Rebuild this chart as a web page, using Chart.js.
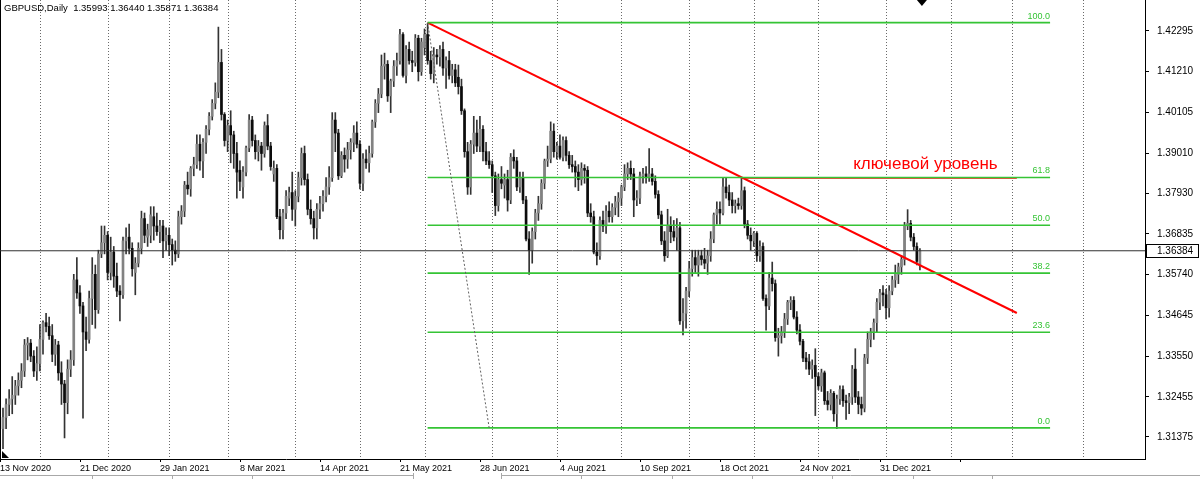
<!DOCTYPE html>
<html>
<head>
<meta charset="utf-8">
<script src="https://cdn.jsdelivr.net/npm/chart.js@4.4.1/dist/chart.umd.min.js"></script>
<style>
html, body { margin: 0; padding: 0; background: #fff; }
#wrap { width: 1200px; height: 479px; }
canvas { display: block; }
</style>
</head>
<body>
<div id="wrap"><canvas id="chart" width="1200" height="479"></canvas></div>
<script>
// GBPUSD daily candles (index 0 = 13 Nov 2020)
const opens = [
1.3160,1.3190,1.3225,1.3240,1.3250,1.3275,1.3290,1.3315,1.3385,1.3390,
1.3355,1.3315,1.3335,1.3400,1.3445,1.3435,1.3410,1.3360,1.3385,1.3310,
1.3280,1.3230,1.3320,1.3345,1.3560,1.3525,1.3490,1.3420,1.3400,1.3510,
1.3575,1.3480,1.3630,1.3660,1.3680,1.3580,1.3635,1.3570,1.3530,1.3520,
1.3665,1.3675,1.3645,1.3580,1.3605,1.3645,1.3725,1.3675,1.3680,1.3730,
1.3705,1.3690,1.3705,1.3665,1.3680,1.3655,1.3640,1.3630,1.3730,1.3745,
1.3815,1.3805,1.3860,1.3870,1.3925,1.3880,1.3930,1.3965,1.4000,1.4035,
1.4065,1.4145,1.4005,1.3935,1.3975,1.3950,1.3900,1.3855,1.3810,1.3850,
1.3915,1.3990,1.3935,1.3905,1.3920,1.3900,1.3975,1.3920,1.3845,1.3860,
1.3730,1.3695,1.3740,1.3780,1.3795,1.3750,1.3785,1.3835,1.3900,1.3830,
1.3750,1.3725,1.3700,1.3750,1.3765,1.3785,1.3810,1.3835,1.3990,1.3955,
1.3840,1.3895,1.3885,1.3910,1.3930,1.3955,1.3925,1.3820,1.3885,1.3875,
1.3900,1.3985,1.4035,1.4060,1.4135,1.4140,1.4055,1.4095,1.4135,1.4150,
1.4220,1.4110,1.4180,1.4150,1.4145,1.4210,1.4120,1.4185,1.4220,1.4150,
1.4115,1.4165,1.4160,1.4180,1.4130,1.4150,1.4110,1.4125,1.4105,1.4080,
1.4015,1.3905,1.3810,1.3925,1.3955,1.3920,1.3965,1.3905,1.3880,1.3870,
1.3840,1.3760,1.3830,1.3815,1.3830,1.3775,1.3890,1.3880,1.3810,1.3835,
1.3775,1.3670,1.3640,1.3690,1.3740,1.3765,1.3820,1.3880,1.3885,1.3960,
1.3905,1.3920,1.3890,1.3935,1.3895,1.3870,1.3865,1.3850,1.3830,1.3860,
1.3855,1.3740,1.3730,1.3635,1.3625,1.3720,1.3705,1.3745,1.3730,1.3755,
1.3770,1.3780,1.3810,1.3845,1.3860,1.3845,1.3775,1.3780,1.3840,1.3845,
1.3835,1.3845,1.3825,1.3790,1.3735,1.3665,1.3625,1.3705,1.3690,1.3675,
1.3700,1.3450,1.3470,1.3530,1.3590,1.3620,1.3600,1.3625,1.3615,1.3605,
1.3625,1.3670,1.3735,1.3750,1.3740,1.3810,1.3795,1.3775,1.3760,1.3765,
1.3760,1.3800,1.3710,1.3680,1.3665,1.3685,1.3625,1.3650,1.3510,1.3490,
1.3565,1.3550,1.3405,1.3410,1.3420,1.3455,1.3500,1.3505,1.3460,1.3425,
1.3395,1.3350,1.3340,1.3320,1.3330,1.3300,1.3275,1.3310,1.3235,1.3225,
1.3255,1.3200,1.3240,1.3265,1.3235,1.3230,1.3245,1.3320,1.3245,1.3225,
1.3215,1.3350,1.3400,1.3420,1.3445,1.3500,1.3525,1.3520,1.3485,1.3530,
1.3560,1.3575,1.3595,1.3615,1.3705,1.3712,1.3675,1.3650,1.35993
];
const highs = [
1.3215,1.3240,1.3265,1.3300,1.3290,1.3310,1.3335,1.3400,1.3405,1.3400,
1.3370,1.3380,1.3440,1.3450,1.3470,1.3460,1.3440,1.3400,1.3395,1.3340,
1.3290,1.3345,1.3370,1.3575,1.3620,1.3545,1.3500,1.3460,1.3530,1.3620,
1.3600,1.3640,1.3705,1.3705,1.3690,1.3675,1.3650,1.3605,1.3545,1.3675,
1.3700,1.3710,1.3660,1.3620,1.3660,1.3745,1.3740,1.3710,1.3757,1.3757,
1.3740,1.3720,1.3720,1.3700,1.3700,1.3670,1.3665,1.3745,1.3760,1.3825,
1.3850,1.3865,1.3890,1.3950,1.3950,1.3940,1.3975,1.4010,1.4045,1.4090,
1.4240,1.4180,1.4010,1.3990,1.4015,1.3960,1.3930,1.3880,1.3865,1.3920,
1.4005,1.4000,1.3950,1.3935,1.3930,1.3985,1.4005,1.3930,1.3880,1.3870,
1.3750,1.3750,1.3800,1.3810,1.3850,1.3800,1.3850,1.3915,1.3920,1.3845,
1.3775,1.3745,1.3765,1.3785,1.3800,1.3835,1.3865,1.4010,1.4010,1.3965,
1.3905,1.3915,1.3930,1.3940,1.3975,1.3985,1.3935,1.3900,1.3910,1.3920,
1.3990,1.4045,1.4075,1.4165,1.4170,1.4150,1.4100,1.4150,1.4170,1.4234,
1.4225,1.4190,1.4200,1.4175,1.4220,1.4218,1.4210,1.4235,1.4250,1.4175,
1.4185,1.4180,1.4190,1.4200,1.4160,1.4175,1.4140,1.4140,1.4138,1.4100,
1.4020,1.3930,1.3935,1.4000,1.3990,1.4000,1.3975,1.3930,1.3905,1.3880,
1.3850,1.3845,1.3865,1.3845,1.3855,1.3900,1.3910,1.3890,1.3850,1.3850,
1.3785,1.3690,1.3700,1.3750,1.3785,1.3830,1.3885,1.3920,1.3985,1.3980,
1.3930,1.3950,1.3945,1.3945,1.3905,1.3895,1.3880,1.3870,1.3875,1.3870,
1.3865,1.3765,1.3745,1.3660,1.3730,1.3745,1.3760,1.3770,1.3765,1.3785,
1.3795,1.3815,1.3870,1.3875,1.3880,1.3860,1.3800,1.3850,1.3860,1.3865,
1.3913,1.3860,1.3840,1.3800,1.3745,1.3690,1.3750,1.3730,1.3720,1.3725,
1.3715,1.3510,1.3540,1.3610,1.3640,1.3640,1.3640,1.3640,1.3645,1.3640,
1.3690,1.3740,1.3770,1.3770,1.3834,1.3835,1.3815,1.3795,1.3775,1.3780,
1.3835,1.3810,1.3720,1.3700,1.3690,1.3690,1.3665,1.3660,1.3520,1.3580,
1.3608,1.3560,1.3430,1.3435,1.3470,1.3505,1.3515,1.3515,1.3475,1.3440,
1.3400,1.3365,1.3360,1.3345,1.3375,1.3310,1.3320,1.3315,1.3260,1.3265,
1.3260,1.3250,1.3275,1.3275,1.3250,1.3255,1.3330,1.3375,1.3260,1.3245,
1.3360,1.3420,1.3430,1.3455,1.3510,1.3535,1.3545,1.3535,1.3545,1.3570,
1.3600,1.3605,1.3625,1.3715,1.3749,1.3720,1.3685,1.3660,1.36440
];
const lows = [
1.3106,1.3160,1.3195,1.3200,1.3225,1.3250,1.3270,1.3300,1.3345,1.3340,
1.3300,1.3290,1.3315,1.3360,1.3420,1.3400,1.3340,1.3330,1.3290,1.3225,
1.3135,1.3200,1.3300,1.3330,1.3510,1.3470,1.3188,1.3370,1.3390,1.3440,
1.3430,1.3470,1.3620,1.3630,1.3560,1.3560,1.3540,1.3515,1.3450,1.3510,
1.3630,1.3630,1.3570,1.3520,1.3595,1.3630,1.3660,1.3650,1.3660,1.3667,
1.3680,1.3660,1.3620,1.3640,1.3625,1.3600,1.3610,1.3620,1.3710,1.3730,
1.3790,1.3785,1.3840,1.3860,1.3855,1.3835,1.3900,1.3950,1.3990,1.4020,
1.4050,1.3990,1.3920,1.3905,1.3875,1.3860,1.3780,1.3800,1.3780,1.3840,
1.3905,1.3920,1.3885,1.3880,1.3855,1.3890,1.3910,1.3855,1.3825,1.3725,
1.3670,1.3670,1.3725,1.3760,1.3720,1.3705,1.3770,1.3815,1.3815,1.3735,
1.3710,1.3670,1.3670,1.3725,1.3745,1.3770,1.3790,1.3825,1.3905,1.3830,
1.3835,1.3850,1.3860,1.3885,1.3905,1.3915,1.3805,1.3800,1.3860,1.3850,
1.3890,1.3970,1.4010,1.4050,1.4100,1.4040,1.4010,1.4080,1.4110,1.4140,
1.4105,1.4090,1.4140,1.4120,1.4135,1.4095,1.4110,1.4165,1.4140,1.4100,
1.4090,1.4140,1.4135,1.4110,1.4075,1.4100,1.4090,1.4080,1.4060,1.4005,
1.3890,1.3790,1.3790,1.3900,1.3905,1.3905,1.3880,1.3870,1.3860,1.3795,
1.3733,1.3745,1.3805,1.3780,1.3745,1.3765,1.3860,1.3800,1.3795,1.3765,
1.3665,1.3575,1.3605,1.3670,1.3720,1.3750,1.3805,1.3865,1.3875,1.3890,
1.3885,1.3885,1.3880,1.3880,1.3860,1.3850,1.3810,1.3800,1.3815,1.3820,
1.3730,1.3715,1.3630,1.3600,1.3615,1.3690,1.3685,1.3715,1.3715,1.3735,
1.3730,1.3760,1.3800,1.3830,1.3830,1.3730,1.3760,1.3765,1.3820,1.3820,
1.3825,1.3815,1.3780,1.3725,1.3655,1.3610,1.3620,1.3660,1.3665,1.3640,
1.3440,1.3412,1.3430,1.3515,1.3570,1.3580,1.3570,1.3600,1.3590,1.3575,
1.3610,1.3660,1.3710,1.3710,1.3735,1.3780,1.3760,1.3740,1.3740,1.3750,
1.3750,1.3700,1.3670,1.3640,1.3650,1.3610,1.3610,1.3505,1.3425,1.3480,
1.3530,1.3395,1.3355,1.3390,1.3405,1.3440,1.3480,1.3455,1.3415,1.3385,
1.3340,1.3320,1.3305,1.3295,1.3195,1.3265,1.3260,1.3225,1.3210,1.3210,
1.3180,1.3160,1.3225,1.3220,1.3185,1.3200,1.3225,1.3230,1.3200,1.3197,
1.3205,1.3335,1.3380,1.3400,1.3420,1.3480,1.3490,1.3455,1.3460,1.3520,
1.3540,1.3550,1.3575,1.3600,1.3695,1.3665,1.3640,1.3600,1.35871
];
const closes = [
1.3190,1.3225,1.3240,1.3250,1.3275,1.3290,1.3315,1.3385,1.3390,1.3355,
1.3315,1.3335,1.3400,1.3445,1.3435,1.3410,1.3360,1.3385,1.3310,1.3280,
1.3230,1.3320,1.3345,1.3560,1.3525,1.3490,1.3420,1.3400,1.3510,1.3575,
1.3480,1.3630,1.3660,1.3680,1.3580,1.3635,1.3570,1.3530,1.3520,1.3665,
1.3675,1.3645,1.3590,1.3605,1.3645,1.3725,1.3680,1.3695,1.3735,1.3705,
1.3690,1.3705,1.3665,1.3680,1.3655,1.3640,1.3630,1.3730,1.3745,1.3815,
1.3805,1.3860,1.3870,1.3925,1.3880,1.3930,1.3965,1.4000,1.4035,1.4065,
1.4145,1.4005,1.3935,1.3975,1.3950,1.3900,1.3850,1.3825,1.3850,1.3915,
1.3990,1.3935,1.3905,1.3920,1.3900,1.3975,1.3920,1.3865,1.3860,1.3730,
1.3695,1.3740,1.3785,1.3795,1.3750,1.3785,1.3835,1.3900,1.3830,1.3750,
1.3725,1.3700,1.3750,1.3765,1.3785,1.3810,1.3835,1.3990,1.3955,1.3840,
1.3895,1.3885,1.3910,1.3930,1.3955,1.3925,1.3820,1.3885,1.3875,1.3900,
1.3985,1.4035,1.4060,1.4135,1.4140,1.4055,1.4095,1.4135,1.4150,1.4220,
1.4110,1.4180,1.4150,1.4145,1.4210,1.4120,1.4200,1.4220,1.4150,1.4115,
1.4165,1.4160,1.4180,1.4130,1.4150,1.4110,1.4125,1.4090,1.4080,1.4015,
1.3905,1.3810,1.3925,1.3955,1.3920,1.3965,1.3905,1.3880,1.3870,1.3840,
1.3760,1.3830,1.3820,1.3830,1.3775,1.3890,1.3880,1.3810,1.3835,1.3775,
1.3670,1.3640,1.3690,1.3740,1.3765,1.3820,1.3880,1.3885,1.3960,1.3905,
1.3920,1.3890,1.3935,1.3895,1.3870,1.3865,1.3850,1.3830,1.3860,1.3855,
1.3740,1.3730,1.3635,1.3625,1.3720,1.3705,1.3745,1.3730,1.3755,1.3770,
1.3780,1.3810,1.3845,1.3860,1.3845,1.3775,1.3780,1.3840,1.3845,1.3835,
1.3845,1.3825,1.3790,1.3735,1.3665,1.3625,1.3705,1.3690,1.3675,1.3700,
1.3450,1.3470,1.3530,1.3590,1.3620,1.3600,1.3625,1.3615,1.3605,1.3625,
1.3670,1.3735,1.3750,1.3740,1.3810,1.3795,1.3775,1.3760,1.3765,1.3760,
1.3800,1.3710,1.3680,1.3665,1.3685,1.3625,1.3650,1.3510,1.3490,1.3565,
1.3550,1.3405,1.3410,1.3420,1.3455,1.3500,1.3505,1.3460,1.3425,1.3395,
1.3350,1.3340,1.3320,1.3330,1.3300,1.3275,1.3310,1.3235,1.3225,1.3255,
1.3200,1.3240,1.3265,1.3235,1.3230,1.3245,1.3320,1.3245,1.3225,1.3215,
1.3350,1.3400,1.3420,1.3445,1.3500,1.3525,1.3520,1.3485,1.3530,1.3560,
1.3575,1.3595,1.3615,1.3705,1.3712,1.3675,1.3650,1.3610,1.36384
];

// time axis: bar index of each date label, and month separators
const dateTicks = [0, 26, 52, 78, 104, 130, 156, 182, 208, 234, 260, 286, 312];
const dateLabels = ['13 Nov 2020', '21 Dec 2020', '29 Jan 2021', '8 Mar 2021', '14 Apr 2021', '21 May 2021',
    '28 Jun 2021', '4 Aug 2021', '10 Sep 2021', '18 Oct 2021', '24 Nov 2021', '31 Dec 2021', ''];
const monthStarts = [12, 34, 54, 73, 95, 116, 137, 159, 180, 201, 223, 244, 265, 287, 308, 328, 351];

// price axis
const priceTicks = [1.42295, 1.41210, 1.40105, 1.39010, 1.37930, 1.36835, 1.35740, 1.34645, 1.33550, 1.32455, 1.31375];

// drawn objects
const fibHigh = 1.4252;
const fibLow = 1.3162;
const fibFrom = [138, 158];      // bar of the high, bar of the low
const fibTo = 340.3;
const fibLevels = [0, 23.6, 38.2, 50.0, 61.8, 100.0];
const trendX = [138, 329.5];
const trendY = [1.4252, 1.3471];
const keyLevel = 1.3834;
const keyX = [240, 329.5];
const keyText = 'ключевой уровень';
const keyTextX = 276.3;

const last = closes.length - 1;
const lastPrice = closes[last];

const PLOT_RIGHT = 1145;
const PLOT_BOTTOM = 459;
const BAR_PX = 80 / 26;
const X_MIN = -3 / BAR_PX;
const X_MAX = X_MIN + PLOT_RIGHT / BAR_PX;
const PX_PER_PRICE = 406 / (1.42295 - 1.31375);
const Y_MAX = 1.42295 + 31 / PX_PER_PRICE;
const Y_MIN = Y_MAX - PLOT_BOTTOM / PX_PER_PRICE;

const isUp = i => closes[i] >= opens[i];
const wickData = closes.map((c, i) => ({ x: i, y: [lows[i], highs[i]] }));
const bodyData = closes.map((c, i) => ({ x: i, y: [Math.min(opens[i], c), Math.max(opens[i], c)] }));

const flatLine = (x0, x1, p) => [{ x: x0, y: p }, { x: x1, y: p }];
const lineSet = (data, color, width, extra) => Object.assign({
    type: 'line', data: data, borderColor: color, borderWidth: width,
    pointRadius: 0, tension: 0, fill: false, order: 1
}, extra || {});

const datasets = [
    { type: 'bar', data: wickData, backgroundColor: '#333333', barThickness: 1, grouped: false, order: 20 },
    {
        type: 'bar', data: bodyData, barThickness: 2, minBarLength: 1, grouped: false, order: 19,
        backgroundColor: ctx => isUp(ctx.dataIndex) ? '#828282' : '#0c0c0c'
    },
    lineSet(flatLine(X_MIN, X_MAX, lastPrice), '#303030', 1),
    lineSet([{ x: fibFrom[0], y: fibHigh }, { x: fibFrom[1], y: fibLow }], '#606060', 1, { borderDash: [2, 2] })
];
fibLevels.forEach(l => {
    datasets.push(lineSet(flatLine(fibFrom[0], fibTo, fibLow + (fibHigh - fibLow) * l / 100), '#35c435', 1.6));
});
datasets.push(lineSet(flatLine(keyX[0], keyX[1], keyLevel), '#ff0000', 1.3));
datasets.push(lineSet([{ x: trendX[0], y: trendY[0] }, { x: trendX[1], y: trendY[1] }], '#ff0000', 2));

const noPad = s => { s.paddingTop = 0; s.paddingBottom = 0; s.paddingLeft = 0; s.paddingRight = 0; };

const overlay = {
    id: 'overlay',
    beforeDatasetsDraw(chart) {
        const { ctx, chartArea: a, scales: { x } } = chart;
        ctx.save();
        ctx.strokeStyle = '#6a6a6a';
        ctx.lineWidth = 1;
        ctx.setLineDash([1, 2]);
        monthStarts.forEach(m => {
            const px = Math.round(x.getPixelForValue(m)) + 0.5;
            ctx.beginPath();
            ctx.moveTo(px, a.top);
            ctx.lineTo(px, a.bottom);
            ctx.stroke();
        });
        ctx.setLineDash([]);
        ctx.strokeStyle = '#000';
        ctx.beginPath();
        ctx.moveTo(0.5, a.top);
        ctx.lineTo(0.5, a.bottom);
        ctx.stroke();
        ctx.restore();
    },
    afterDatasetsDraw(chart) {
        const { ctx, chartArea: a, scales: { x, y } } = chart;
        ctx.save();
        // fibo level labels
        ctx.font = '9px "Liberation Sans"';
        ctx.fillStyle = '#35c435';
        ctx.textAlign = 'right';
        ctx.textBaseline = 'bottom';
        fibLevels.forEach(l => {
            const p = fibLow + (fibHigh - fibLow) * l / 100;
            ctx.fillText(l.toFixed(1), x.getPixelForValue(fibTo), y.getPixelForValue(p) - 2);
        });
        // key level caption
        ctx.font = '17px "Liberation Sans"';
        ctx.fillStyle = '#ff0000';
        ctx.textAlign = 'left';
        ctx.textBaseline = 'alphabetic';
        ctx.fillText(keyText, x.getPixelForValue(keyTextX), y.getPixelForValue(keyLevel) - 9);
        // header
        ctx.font = '9.5px "Liberation Sans"';
        ctx.fillStyle = '#000';
        ctx.textBaseline = 'middle';
        ctx.fillText('GBPUSD,Daily  ' + [opens[last], highs[last], lows[last], closes[last]].map(v => v.toFixed(5)).join(' '), 4, 8);
        // shift marker on top and small marker bottom-left
        const sx = x.getPixelForValue(last) + 2;
        ctx.beginPath();
        ctx.moveTo(sx - 5, a.top);
        ctx.lineTo(sx + 5, a.top);
        ctx.lineTo(sx, a.top + 6);
        ctx.closePath();
        ctx.fill();
        ctx.beginPath();
        ctx.moveTo(2, a.bottom - 1);
        ctx.lineTo(2, a.bottom - 8);
        ctx.lineTo(9, a.bottom - 1);
        ctx.closePath();
        ctx.fill();
        ctx.restore();
    },
    afterDraw(chart) {
        const { ctx, chartArea: a, scales: { y } } = chart;
        const py = Math.round(y.getPixelForValue(lastPrice));
        ctx.save();
        ctx.fillStyle = '#fff';
        ctx.strokeStyle = '#000';
        ctx.lineWidth = 1;
        ctx.fillRect(a.right + 1, py - 7, 1199 - a.right - 1, 14);
        ctx.strokeRect(a.right + 1.5, py - 6.5, 1199 - a.right - 2, 13);
        ctx.fillStyle = '#000';
        ctx.font = '10px "Liberation Sans"';
        ctx.textBaseline = 'middle';
        ctx.textAlign = 'left';
        ctx.fillText(lastPrice.toFixed(5), a.right + 12, py + 0.5);
        // terminal tab strip under the time axis
        ctx.strokeStyle = '#a8a8a8';
        ctx.beginPath();
        ctx.moveTo(0, 475.5); ctx.lineTo(413, 475.5);
        ctx.moveTo(501, 475.5); ctx.lineTo(1200, 475.5);
        [92, 172, 252, 581, 672, 752, 832, 913, 992].forEach(t => {
            ctx.moveTo(t + 0.5, 476); ctx.lineTo(t + 0.5, 479);
        });
        ctx.moveTo(413.5, 473); ctx.lineTo(413.5, 479);
        ctx.moveTo(501.5, 473); ctx.lineTo(501.5, 479);
        ctx.stroke();
        ctx.restore();
    }
};

new Chart(document.getElementById('chart'), {
    type: 'bar',
    data: { datasets: datasets },
    plugins: [overlay],
    options: {
        responsive: false,
        animation: false,
        devicePixelRatio: 1,
        layout: { padding: 0 },
        plugins: { legend: { display: false }, tooltip: { enabled: false } },
        scales: {
            x: {
                type: 'linear', min: X_MIN, max: X_MAX, offset: false,
                afterBuildTicks: s => { s.ticks = dateTicks.map(v => ({ value: v + X_MIN })); },
                afterFit: s => { s.height = 479 - PLOT_BOTTOM; noPad(s); },
                grid: { drawOnChartArea: false, drawTicks: true, tickLength: 3, color: '#000', offset: false },
                border: { display: true, color: '#000' },
                ticks: {
                    autoSkip: false, maxRotation: 0, minRotation: 0, align: 'start', padding: 1,
                    color: '#000', font: { size: 9, family: 'Liberation Sans' },
                    callback: (v, i) => dateLabels[i]
                }
            },
            y: {
                position: 'right', min: Y_MIN, max: Y_MAX,
                afterBuildTicks: s => { s.ticks = priceTicks.map(v => ({ value: v })); },
                afterFit: s => { s.width = 1200 - PLOT_RIGHT; noPad(s); },
                grid: { drawOnChartArea: false, drawTicks: true, tickLength: 4, color: '#000' },
                border: { display: true, color: '#000' },
                ticks: {
                    padding: 8, color: '#000', font: { size: 10, family: 'Liberation Sans' },
                    callback: v => v.toFixed(5)
                }
            }
        }
    }
});
</script>
</body>
</html>
